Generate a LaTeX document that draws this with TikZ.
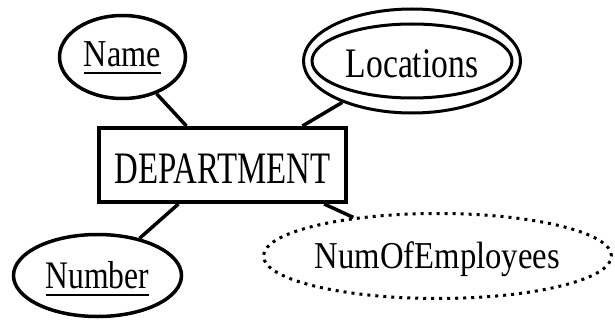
\documentclass[tikz,border=0pt]{standalone}
\usepackage{fontspec}
\setmainfont{Liberation Serif}
\usetikzlibrary{shapes.geometric}
\newcommand\myul[1]{\setbox0=\hbox{#1}\rlap{\raisebox{-7.5pt}{\rule{\wd0}{2pt}}}\box0}
\begin{document}
\begin{tikzpicture}[x=1pt,y=-1pt,
  attr/.style={ellipse, draw, line width=3.5pt, inner sep=0pt, text depth=0pt},
  lbl/.style={font=\fontsize{38}{40}\selectfont},
  conn/.style={line width=3.5pt}]
\useasboundingbox[fill=white] (0,0) rectangle (615,326);
\node[rectangle, draw, line width=4pt, minimum width=247pt, minimum height=74pt,
  inner sep=0pt, text height=36pt, text depth=0pt,
  font=\fontsize{45}{48}\selectfont] (dept) at (222.5,165) {\scalebox{0.73}[1]{DEPARTMENT}};
\node[attr, lbl, minimum width=126pt, minimum height=83pt, text height=20pt] (name) at (122.5,57)
  {\scalebox{0.85}[1]{\myul{Name}}};
\node[attr, minimum width=168pt, minimum height=82pt, text height=25pt,
  font=\fontsize{39}{41}\selectfont] (number) at (97.5,275.5)
  {\scalebox{0.81}[1]{\myul{Number}}};
\node[attr, line width=3pt, minimum width=217pt, minimum height=104pt, text height=34pt,
  font=\fontsize{42}{44}\selectfont] (loc) at (412,61)
  {\scalebox{0.80}[1]{Locations}};
\draw[line width=3pt] (loc.center) ellipse [x radius=100pt, y radius=37pt];
\node[attr, lbl, line width=3pt, dash pattern=on 3pt off 5pt, minimum width=348pt, minimum height=85pt,
  text height=24pt] (numof) at (437.5,256)
  {\scalebox{0.86}[1]{NumOfEmployees}};
\draw[conn] (name) -- (dept);
\draw[conn] (number) -- (dept);
\draw[conn] (loc) -- (dept.26);
\draw[conn] (dept.-21) -- (numof);
\end{tikzpicture}
\end{document}
